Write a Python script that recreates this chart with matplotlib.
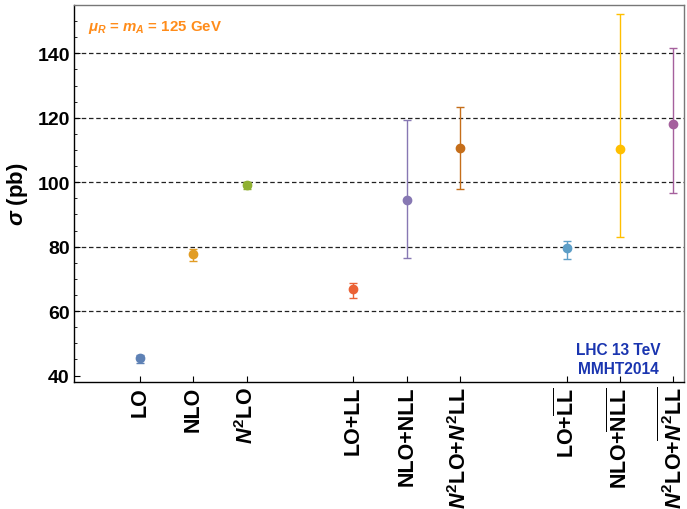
import matplotlib
matplotlib.use("Agg")
import matplotlib.pyplot as plt
from matplotlib.ticker import MultipleLocator

plt.rcParams['font.family'] = ['Liberation Sans', 'DejaVu Sans']
plt.rcParams['font.weight'] = 'bold'
plt.rcParams['mathtext.fontset'] = 'custom'
plt.rcParams['mathtext.rm'] = 'Liberation Sans:bold'
plt.rcParams['mathtext.bf'] = 'Liberation Sans:bold'
plt.rcParams['mathtext.it'] = 'Liberation Sans:italic:bold'
plt.rcParams['mathtext.sf'] = 'Liberation Sans:bold'

# Data
labels = ['LO', 'NLO', r'$\mathit{N}^{2}$LO',
          'LO+LL', 'NLO+NLL', r'$\mathit{N}^{2}$LO+$\mathit{N}^{2}$LL',
          r'LO+$\overline{\mathrm{LL}}$', r'NLO+$\overline{\mathrm{NLL}}$',
          r'$\mathit{N}^{2}$LO+$\overline{\mathit{N}^{2}\mathrm{LL}}$']
positions = [1, 2, 3, 5, 6, 7, 9, 10, 11]
central = [45.4, 77.7, 99.0, 66.9, 94.4, 110.7, 79.6, 110.2, 118.0]
upper = [46.4, 79.3, 100.0, 68.8, 119.4, 123.2, 81.7, 152.2, 141.7]
lower = [44.0, 75.6, 98.0, 64.0, 76.4, 97.8, 76.1, 83.0, 96.8]
colors = ['#5E81B5', '#E19C24', '#8FB032', '#EB6235', '#8778B3',
          '#C56E1A', '#5D9EC7', '#FFBF00', '#A5609D']
grid_vals = [60, 80, 100, 120, 140]

fig = plt.figure(figsize=(6.87, 5.10), dpi=100)
ax = fig.add_axes([74/687, 1-382.7/510, (684-74)/687, (382.7-6)/510])

for v in grid_vals:
    ax.axhline(v, color='#222222', lw=0.9, dashes=(3.6, 2.2), zorder=1)

for x, c, up, lo, col in zip(positions, central, upper, lower, colors):
    ax.errorbar([x], [c], yerr=[[c-lo], [up-c]], fmt='o', color=col,
                ecolor=col, elinewidth=1.0, capsize=3, capthick=1.0,
                markersize=6, zorder=3)

ax.set_xlim(-0.24, 11.2)
ax.set_ylim(38.1, 155)
ax.set_xticks(positions)
ax.set_xticklabels(labels, rotation=90, va='top', ha='center', fontsize=15.5)
ax.set_yticks([40, 60, 80, 100, 120, 140])
ax.yaxis.set_minor_locator(MultipleLocator(5))
ax.tick_params(axis='y', which='major', direction='in', length=4, labelsize=14, width=0.8, pad=3)
ax.tick_params(axis='y', which='minor', direction='in', length=2, width=0.6)
ax.tick_params(axis='x', which='major', direction='in', length=4, width=0.8, pad=3)
for lab in ax.get_yticklabels():
    lab.set_fontweight('bold')
for lab in ax.get_xticklabels():
    lab.set_fontweight('bold')

ax.spines['left'].set_color('black')
ax.spines['bottom'].set_color('black')
ax.spines['top'].set_color('#777777')
ax.spines['right'].set_color('#777777')
for s in ax.spines.values():
    s.set_linewidth(1.0)

ax.set_ylabel(r'$\sigma$ (pb)', fontsize=16, fontweight='bold', labelpad=5)

ax.text(0.023, 0.965, r'$\mu_R$ = $m_A$ = 125 GeV', transform=ax.transAxes,
        color='#FF8C1A', fontsize=10.8, fontweight='bold', ha='left', va='top')
ax.text(0.893, 0.06, 'LHC 13 TeV\nMMHT2014', transform=ax.transAxes,
        color='#1A35B0', fontsize=11.2, fontweight='bold', ha='center', va='center',
        linespacing=1.3)

fig.savefig('out.png', dpi=100)
